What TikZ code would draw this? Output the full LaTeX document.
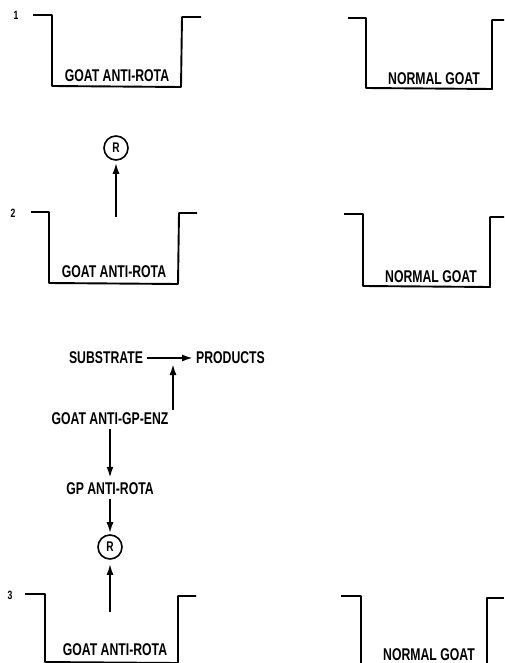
\documentclass[tikz,border=0pt]{standalone}
\usepackage{fontspec}
\setmainfont{Liberation Sans}[FakeStretch=0.72]
\usetikzlibrary{arrows.meta}
\begin{document}
\begin{tikzpicture}[x=1pt,y=-1pt,
  wall/.style={line width=1.9pt,line join=round},
  lbl/.style={font=\bfseries\fontsize{17}{18}\selectfont,inner sep=0pt,anchor=center},
  num/.style={font=\bfseries\fontsize{12}{13}\selectfont,inner sep=0pt},
  rcirc/.style={circle,draw,line width=1.6pt,minimum size=24pt,inner sep=0pt,font=\bfseries\fontsize{14}{15}\selectfont},
  arr/.style={line width=1.9pt,-{Latex[length=11pt,width=7pt]}}]
\useasboundingbox (0,0) rectangle (504,663);
% row 1
\node[num] (n1) at (16,15) {1};
\draw[wall] (33,15) -- (52,15) -- (52,86) -- (181,87) -- (182,17) -- (201,17);
\node[lbl] (w1l) at (117,76) {GOAT ANTI-ROTA};
\draw[wall] (348,18) -- (366,18) -- (366,88) -- (492,89) -- (492,20) -- (504,20);
\node[lbl] (w1r) at (434,79) {NORMAL GOAT};
% row 2
\node[num] (n2) at (13,213) {2};
\draw[wall] (31,212) -- (49,212) -- (49,283) -- (178,284) -- (179,213) -- (197,213);
\node[lbl] (w2l) at (114,272) {GOAT ANTI-ROTA};
\draw[wall] (344,214) -- (363,214) -- (363,286) -- (490,287) -- (490,217) -- (504,217);
\node[lbl] (w2r) at (431,277) {NORMAL GOAT};
\node[rcirc] (r2) at (116,148) {R};
\coordinate (s2) at (116,217);
\draw[arr,shorten >=2pt] (s2) -- (r2);
% row 3 reaction chain
\node[lbl] (sub) at (106,358) {SUBSTRATE};
\node[lbl,anchor=west] (prod) at (196,358) {PRODUCTS};
\draw[arr,shorten <=4pt,shorten >=3pt] (sub.east) -- (prod.west);
\coordinate (mid) at (173,362);
\node[lbl] (enz) at (110,419) {GOAT ANTI-GP-ENZ};
\coordinate (e1) at (173,410);
\draw[arr,shorten >=2pt] (e1) -- (mid);
\node[lbl] (gpr) at (110,489) {GP ANTI-ROTA};
\draw[arr,shorten <=4pt,shorten >=5pt] (enz.south -| 110,0) -- (gpr.north -| 110,0);
\node[rcirc] (r3) at (110,547) {R};
\draw[arr,shorten <=4pt,shorten >=1pt] (gpr.south -| 110,0) -- (r3);
\coordinate (s3) at (110,612);
\draw[arr,shorten >=4pt] (s3) -- (r3);
\node[num] (n3) at (10,595) {3};
\draw[wall] (25,594) -- (45,594) -- (45,662) -- (178,663) -- (178,596) -- (196,596);
\node[lbl] (w3l) at (115,650) {GOAT ANTI-ROTA};
\draw[wall] (341,596) -- (361,596) -- (361,670);
\draw[wall] (487,670) -- (487,598) -- (504,598);
\node[lbl] (w3r) at (429,655) {NORMAL GOAT};
\end{tikzpicture}
\end{document}
